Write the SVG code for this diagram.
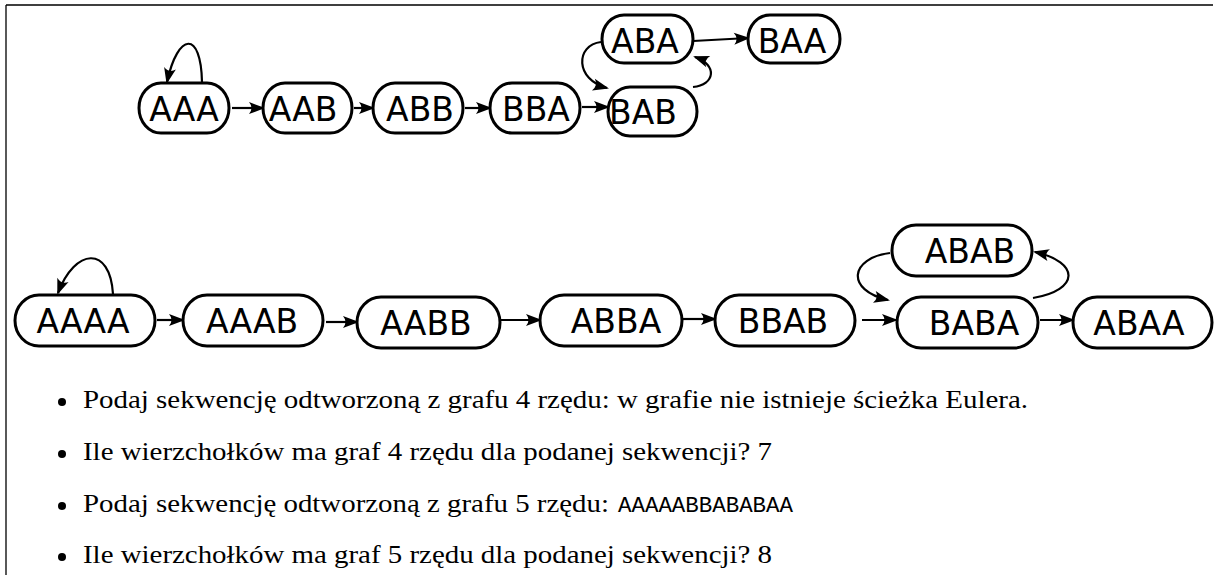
<svg xmlns="http://www.w3.org/2000/svg" width="1214" height="575" viewBox="0 0 1214 575">
<style>
.node rect{fill:#fff;stroke:#000;stroke-width:3}
.node text{font-family:"DejaVu Sans",sans-serif;font-size:33px;text-anchor:middle;fill:#000}
.edge{fill:none;stroke:#000;stroke-width:2.2;marker-end:url(#ah)}
.txt{font-family:"Liberation Serif",serif;font-size:26px;fill:#000}
.mono{font-family:"Liberation Mono",monospace;font-size:22px;fill:#000}
</style>
<defs>
<marker id="ah" markerUnits="userSpaceOnUse" viewBox="-16 -7 19 14" refX="0" refY="0" markerWidth="19" markerHeight="14" orient="auto">
<path d="M2,0 L-14,-6 Q-9,0 -14,6 z" fill="#000"/>
</marker>
</defs>
<rect width="1214" height="575" fill="#fff"/>
<g id="frame" stroke="#000" stroke-width="1.3" fill="none">
<path d="M6,5 H1213 M6,5 V575"/>
</g>
<g id="connectors">
<path class="edge" d="M202,82 C201,30 178,32 167,82"/>
<path class="edge" d="M232,108 L263,108"/>
<path class="edge" d="M354,108 L373,108"/>
<path class="edge" d="M465,108 L490,108"/>
<path class="edge" d="M582,107 L608,107"/>
<path class="edge" d="M601,42 C575,45 575,80 607,88"/>
<path class="edge" d="M693,87 C715,85 718,65 695,57"/>
<path class="edge" d="M693,41 L748,38"/>
<path class="edge" d="M113,294 C110,245 75,248 58,293"/>
<path class="edge" d="M157,320 L183,320"/>
<path class="edge" d="M326,322 L357,322"/>
<path class="edge" d="M501,320 L540,320"/>
<path class="edge" d="M683,319 L715,319"/>
<path class="edge" d="M862,320 L896,320"/>
<path class="edge" d="M1040,320 L1073,320"/>
<path class="edge" d="M890,253 C850,258 845,290 888,300"/>
<path class="edge" d="M1033,298 C1080,290 1080,262 1035,252"/>
</g>
<g id="n-AAA" class="node"><rect x="139" y="83" width="90" height="50" rx="22" ry="25"/><text x="184" y="121">AAA</text></g>
<g id="n-AAB" class="node"><rect x="263" y="83" width="89" height="50" rx="22" ry="25"/><text x="303" y="121">AAB</text></g>
<g id="n-ABB" class="node"><rect x="373" y="83" width="90" height="50" rx="22" ry="25"/><text x="420" y="121">ABB</text></g>
<g id="n-BBA" class="node"><rect x="490" y="83" width="90" height="50" rx="22" ry="25"/><text x="536" y="121">BBA</text></g>
<g id="n-BAB" class="node"><rect x="608" y="87" width="89" height="49" rx="22" ry="24.5"/><text x="643" y="124">BAB</text></g>
<g id="n-ABA" class="node"><rect x="602" y="15" width="91" height="48" rx="22" ry="24"/><text x="645" y="53">ABA</text></g>
<g id="n-BAA" class="node"><rect x="748" y="15" width="92" height="48" rx="22" ry="24"/><text x="792" y="53">BAA</text></g>
<g id="n-AAAA" class="node"><rect x="15" y="295" width="140" height="51" rx="24" ry="25.5"/><text x="83" y="333">AAAA</text></g>
<g id="n-AAAB" class="node"><rect x="183" y="295" width="140" height="51" rx="24" ry="25.5"/><text x="252" y="333">AAAB</text></g>
<g id="n-AABB" class="node"><rect x="357" y="297" width="143" height="51" rx="24" ry="25.5"/><text x="426" y="335">AABB</text></g>
<g id="n-ABBA" class="node"><rect x="540" y="295" width="142" height="51" rx="24" ry="25.5"/><text x="616" y="333">ABBA</text></g>
<g id="n-BBAB" class="node"><rect x="715" y="295" width="140" height="51" rx="24" ry="25.5"/><text x="783" y="333">BBAB</text></g>
<g id="n-BABA" class="node"><rect x="897" y="297" width="141" height="51" rx="24" ry="25.5"/><text x="974" y="335">BABA</text></g>
<g id="n-ABAA" class="node"><rect x="1073" y="297" width="139" height="51" rx="24" ry="25.5"/><text x="1139" y="335">ABAA</text></g>
<g id="n-ABAB" class="node"><rect x="892" y="225" width="140" height="51" rx="24" ry="25.5"/><text x="970" y="263">ABAB</text></g>
<g id="questions">
<circle cx="62" cy="402" r="4"/>
<text class="txt" x="83" y="408" textLength="945" lengthAdjust="spacingAndGlyphs">Podaj sekwencję odtworzoną z grafu 4 rzędu: w grafie nie istnieje ścieżka Eulera.</text>
<circle cx="62" cy="454" r="4"/>
<text class="txt" x="83" y="460" textLength="689" lengthAdjust="spacingAndGlyphs">Ile wierzchołków ma graf 4 rzędu dla podanej sekwencji? 7</text>
<circle cx="62" cy="506" r="4"/>
<text class="txt" x="83" y="512" textLength="526" lengthAdjust="spacingAndGlyphs">Podaj sekwencję odtworzoną z grafu 5 rzędu:</text>
<text class="mono" x="618" y="512" textLength="175" lengthAdjust="spacingAndGlyphs">AAAAABBABABAA</text>
<circle cx="62" cy="557" r="4"/>
<text class="txt" x="83" y="563" textLength="689" lengthAdjust="spacingAndGlyphs">Ile wierzchołków ma graf 5 rzędu dla podanej sekwencji? 8</text>
</g>
</svg>
